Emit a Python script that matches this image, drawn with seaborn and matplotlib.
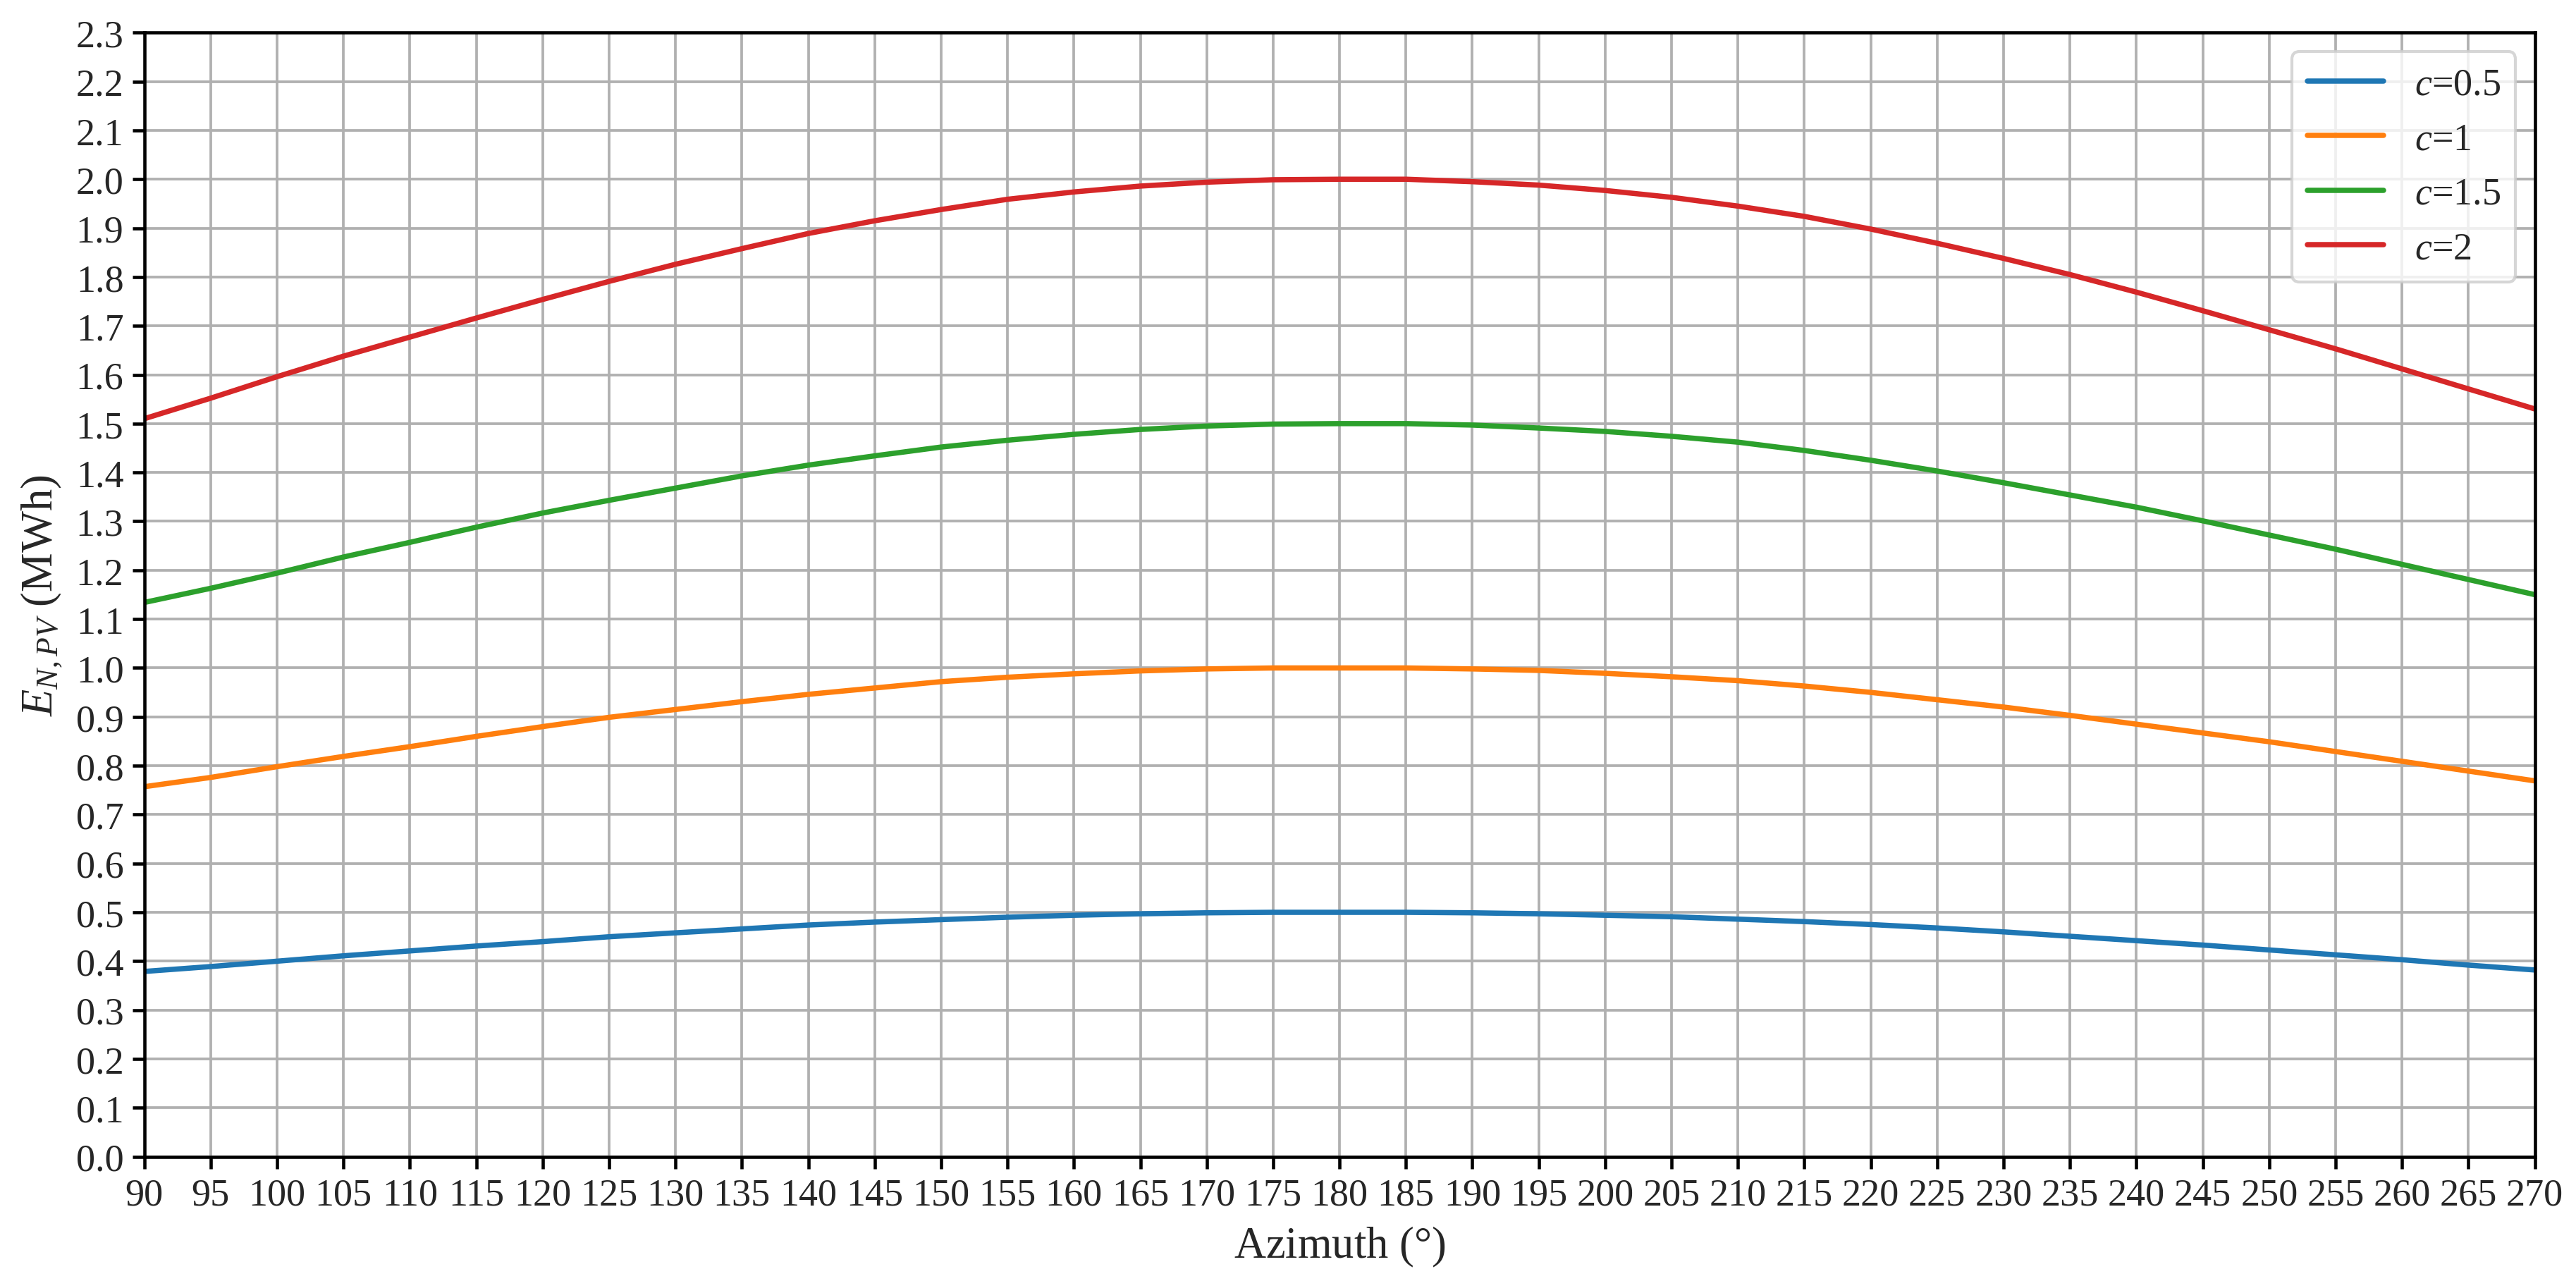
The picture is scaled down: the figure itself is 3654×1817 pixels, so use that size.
import numpy as np
import pandas as pd
import matplotlib
matplotlib.use("Agg")
import matplotlib.pyplot as plt
import seaborn as sns

# azimuth samples (degrees)
azimuth = list(range(90, 271, 5))

# values (MWh)
e_c05 = [0.379, 0.389, 0.400, 0.411, 0.421, 0.431, 0.440, 0.450, 0.458, 0.466,
         0.474, 0.480, 0.485, 0.490, 0.494, 0.497, 0.499, 0.500, 0.500, 0.500,
         0.499, 0.497, 0.494, 0.491, 0.486, 0.481, 0.475, 0.468, 0.460, 0.451,
         0.442, 0.433, 0.423, 0.413, 0.403, 0.392, 0.382]
e_c1 = [0.757, 0.776, 0.798, 0.819, 0.839, 0.860, 0.880, 0.899, 0.915, 0.931,
        0.946, 0.959, 0.972, 0.981, 0.988, 0.994, 0.998, 1.000, 1.000, 1.000,
        0.998, 0.995, 0.989, 0.982, 0.974, 0.963, 0.950, 0.935, 0.920, 0.903,
        0.885, 0.867, 0.849, 0.829, 0.809, 0.789, 0.769]
e_c15 = [1.134, 1.163, 1.194, 1.227, 1.257, 1.288, 1.317, 1.343, 1.368, 1.393,
         1.415, 1.434, 1.452, 1.466, 1.478, 1.488, 1.495, 1.499, 1.500, 1.500,
         1.497, 1.491, 1.484, 1.474, 1.462, 1.445, 1.425, 1.403, 1.379, 1.354,
         1.329, 1.301, 1.272, 1.243, 1.212, 1.181, 1.150]
e_c2 = [1.510, 1.552, 1.596, 1.638, 1.677, 1.716, 1.754, 1.791, 1.826, 1.858,
        1.889, 1.915, 1.938, 1.959, 1.974, 1.986, 1.994, 1.999, 2.000, 2.000,
        1.995, 1.988, 1.977, 1.963, 1.945, 1.924, 1.898, 1.869, 1.838, 1.805,
        1.769, 1.731, 1.692, 1.653, 1.612, 1.571, 1.530]

labels = ["$c$=0.5", "$c$=1", "$c$=1.5", "$c$=2"]
series = [e_c05, e_c1, e_c15, e_c2]

df = pd.concat([pd.DataFrame({"azimuth": azimuth, "energy": s, "c": lab})
                for s, lab in zip(series, labels)], ignore_index=True)

sns.set_style("ticks")
plt.rcParams["font.family"] = ["Liberation Serif", "DejaVu Serif"]
plt.rcParams["mathtext.fontset"] = "custom"
plt.rcParams["mathtext.rm"] = "Liberation Serif"
plt.rcParams["mathtext.it"] = "Liberation Serif:italic"

fig, ax = plt.subplots(figsize=(12.18, 6.06), dpi=300)
fig.subplots_adjust(left=0.056, right=0.984, top=0.974, bottom=0.097)

sns.lineplot(data=df, x="azimuth", y="energy", hue="c", hue_order=labels,
             palette=sns.color_palette("tab10", 4), linewidth=1.8, ax=ax)

ax.set_xlim(90, 270)
ax.set_ylim(0, 2.3)
ax.set_xticks(np.arange(90, 271, 5))
ax.set_yticks(np.arange(0, 2.31, 0.1))
ax.set_yticklabels([f"{v:.1f}" for v in np.arange(0, 2.31, 0.1)])
ax.tick_params(labelsize=13, width=1.1, length=4, color="black", pad=3)
ax.grid(True, color="#b0b0b0", linewidth=0.9)
for sp in ax.spines.values():
    sp.set_color("black")
    sp.set_linewidth(1.1)

ax.set_xlabel("Azimuth ($\\degree$)", fontsize=15)
ax.set_ylabel("$E_{N,PV}$ (MWh)", fontsize=15)

handles, labs = ax.get_legend_handles_labels()
ax.legend(handles, labs, loc="upper right", fontsize=13, fancybox=True, framealpha=0.8)

fig.savefig("out.png", dpi=300)
